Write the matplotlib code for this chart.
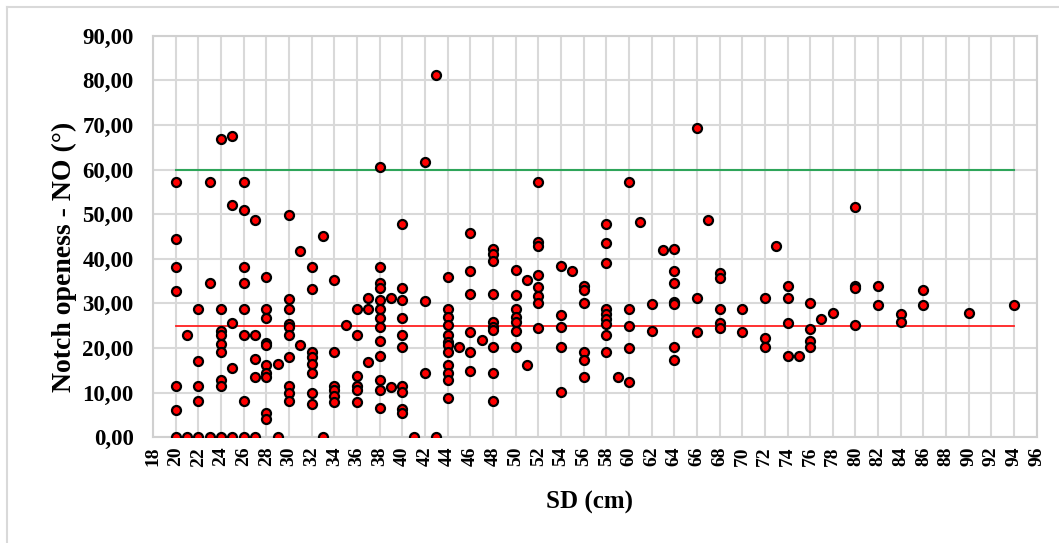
import matplotlib.pyplot as plt
from matplotlib.lines import Line2D
from matplotlib.ticker import FuncFormatter, MultipleLocator

# SD (cm) -> notch openness values
sd_values = {
    20: [57.3, 44.5, 38.1, 32.8, 11.5, 6.0, 0],
    21: [23.0, 0],
    22: [28.7, 17.1, 11.5, 8.2, 0],
    23: [57.3, 34.6, 0],
    24: [66.9, 28.7, 23.9, 22.9, 20.9, 19.2, 12.9, 11.5, 0],
    25: [67.6, 52.1, 25.5, 15.5, 0],
    26: [57.3, 50.9, 38.1, 34.6, 28.7, 23.0, 8.2, 0],
    27: [48.6, 23.0, 17.5, 13.5, 0],
    28: [35.9, 28.7, 26.7, 21.1, 20.7, 16.2, 14.4, 13.5, 5.5, 4.1],
    29: [16.4, 0],
    30: [49.9, 31.0, 28.7, 25.4, 24.7, 23.0, 17.9, 11.5, 9.9, 8.2],
    31: [41.7, 20.7],
    32: [38.1, 33.3, 19.2, 18.0, 16.5, 14.4, 9.9, 7.5],
    33: [45.2, 0],
    34: [35.3, 19.2, 11.5, 10.6, 9.3, 7.9],
    35: [25.2],
    36: [28.7, 23.0, 13.6, 11.5, 10.6, 7.8],
    37: [31.3, 28.7, 16.9],
    38: [60.5, 38.1, 34.6, 33.4, 30.8, 28.7, 26.7, 24.7, 21.5, 18.1, 12.7, 10.6, 6.6],
    39: [31.1, 11.2],
    40: [47.7, 33.4, 30.8, 26.7, 23.0, 20.3, 11.5, 10.2, 6.4, 5.5],
    41: [0],
    42: [61.6, 30.5, 14.4],
    43: [81.2, 0],
    44: [35.9, 28.7, 26.9, 25.2, 23.0, 21.3, 20.6, 19.2, 16.1, 14.4, 12.7, 8.8],
    45: [20.2],
    46: [45.8, 37.2, 32.2, 23.6, 19.2, 14.9],
    47: [21.8],
    48: [42.3, 41.0, 39.6, 32.2, 25.8, 24.8, 24.1, 20.1, 14.4, 8.0],
    50: [37.4, 31.9, 28.7, 26.9, 25.8, 23.9, 20.1],
    51: [35.2, 16.1],
    52: [57.3, 43.8, 42.9, 36.3, 33.7, 31.6, 30.1, 24.5],
    54: [38.3, 27.5, 24.7, 20.1, 10.2],
    55: [37.2],
    56: [34.0, 32.9, 30.1, 19.2, 17.4, 13.5],
    58: [47.7, 43.6, 39.0, 28.7, 27.7, 26.6, 25.4, 23.0, 19.2],
    59: [13.5],
    60: [57.3, 28.7, 25.0, 19.9, 12.3],
    61: [48.2],
    62: [29.9, 23.9],
    63: [41.9],
    64: [42.3, 37.2, 34.6, 30.3, 29.9, 20.1, 17.4],
    66: [69.4, 31.3, 23.6],
    67: [48.7],
    68: [36.9, 35.6, 28.7, 25.7, 24.4],
    70: [28.7, 23.6],
    72: [31.1, 22.2, 20.1],
    73: [42.9],
    74: [34.0, 31.1, 25.7, 18.2],
    75: [18.2],
    76: [30.0, 24.2, 21.6, 20.1],
    77: [26.5],
    78: [27.9],
    80: [51.5, 34.0, 33.4, 25.1],
    82: [34.0, 29.6],
    84: [27.7, 25.9],
    86: [33.1, 29.6],
    90: [27.9],
    94: [29.6],
}

sd = [k for k, vals in sd_values.items() for _ in vals]
no = [v for vals in sd_values.values() for v in vals]

ref_x = [20, 94]
upper_limit = 60
mean_line = 25

plt.rcParams['font.family'] = 'Liberation Serif'
plt.rcParams['font.weight'] = 'bold'

fig = plt.figure(figsize=(10.59, 5.43), dpi=100)
# chart-area frame (only top and left edges are visible in the original)
W, H = 1059, 543
fig.add_artist(Line2D([7 / W, 1], [1 - 7 / H, 1 - 7 / H], color='#d9d9d9', lw=1.5))
fig.add_artist(Line2D([7 / W, 7 / W], [0, 1 - 7 / H], color='#d9d9d9', lw=1.5))

ax = fig.add_axes([0.1445, 0.195, 0.8345, 0.739])

ax.plot(ref_x, [upper_limit, upper_limit], color='#2ea55a', lw=1.5, zorder=2)
ax.plot(ref_x, [mean_line, mean_line], color='#ff2020', lw=1.3, zorder=2)
ax.scatter(sd, no, s=42, color='#ff0000', edgecolors='black', linewidths=1.6, zorder=3)

ax.set_xlim(18, 96)
ax.set_ylim(0, 90)
ax.xaxis.set_major_locator(MultipleLocator(2))
ax.yaxis.set_major_locator(MultipleLocator(10))
ax.yaxis.set_major_formatter(FuncFormatter(lambda v, p: f'{v:.2f}'.replace('.', ',')))
ax.grid(True, color='#d9d9d9', lw=1.5)
ax.set_axisbelow(True)
for s in ax.spines.values():
    s.set_color('#d0d0d0')
    s.set_linewidth(1.5)
ax.tick_params(length=0)
ax.tick_params(axis='x', labelsize=14, rotation=90, pad=7)
ax.tick_params(axis='y', labelsize=16.5, pad=14)

ax.set_xlabel('SD (cm)', fontsize=18, fontweight='bold')
ax.set_ylabel('Notch openess - NO (°)', fontsize=20, fontweight='bold')
ax.xaxis.set_label_coords(0.494, -0.135)
ax.yaxis.set_label_coords(-0.086, 0.45)

fig.savefig('out.png', dpi=100)
